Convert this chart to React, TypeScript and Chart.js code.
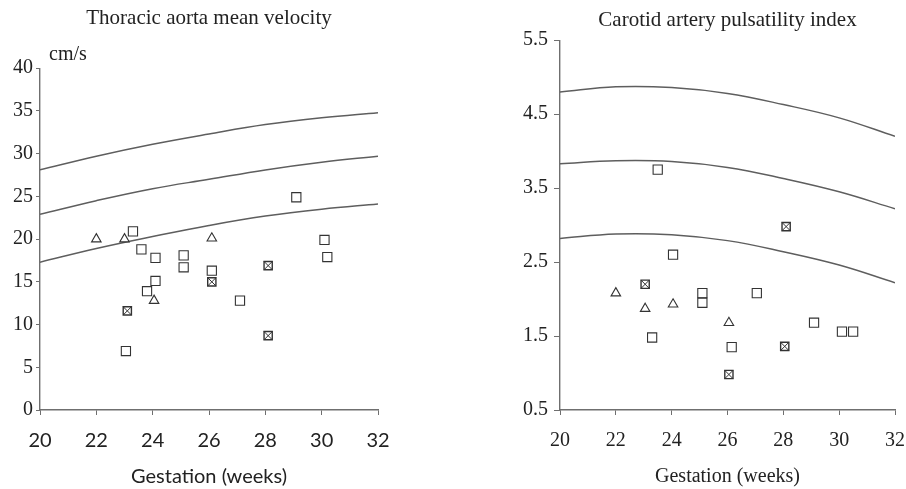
import React, { useEffect, useRef } from "react";
import { Chart, registerables } from "chart.js";

Chart.register(...registerables);

// ---------- data ----------
const weekTicks = [20, 22, 24, 26, 28, 30, 32];

// Thoracic aorta mean velocity (cm/s) reference curves
const curveWeeks = [20, 22, 24, 26, 28, 30, 32];
const aortaUpper = [28.1, 29.7, 31.1, 32.3, 33.4, 34.2, 34.8];
const aortaMiddle = [22.9, 24.5, 25.9, 27.0, 28.1, 29.0, 29.7];
const aortaLower = [17.3, 18.9, 20.3, 21.6, 22.7, 23.5, 24.1];
const aortaTicks = [0, 5, 10, 15, 20, 25, 30, 35, 40];

const aortaSquares: [number, number][] = [
  [23.3, 20.9], [23.6, 18.8], [24.1, 17.8], [25.1, 18.1], [25.1, 16.7],
  [26.1, 16.3], [24.1, 15.1], [23.8, 13.9], [23.05, 6.9], [27.1, 12.8],
  [29.1, 24.9], [30.1, 19.9], [30.2, 17.9],
];
const aortaTriangles: [number, number][] = [
  [22.0, 20.0], [23.0, 20.0], [26.1, 20.1], [24.05, 12.8],
];
const aortaCrossed: [number, number][] = [
  [26.1, 15.0], [23.1, 11.6], [28.1, 16.9], [28.1, 8.7],
];

// Carotid artery pulsatility index reference curves
const carotidUpper = [4.8, 4.87, 4.86, 4.78, 4.63, 4.45, 4.2];
const carotidMiddle = [3.83, 3.87, 3.86, 3.78, 3.63, 3.45, 3.22];
const carotidLower = [2.82, 2.88, 2.87, 2.79, 2.64, 2.46, 2.22];
const carotidTicks = [0.5, 1.5, 2.5, 3.5, 4.5, 5.5];

const carotidSquares: [number, number][] = [
  [23.5, 3.75], [24.05, 2.6], [25.1, 2.08], [25.1, 1.95], [27.05, 2.08],
  [23.3, 1.48], [26.15, 1.35], [29.1, 1.68], [30.1, 1.56], [30.5, 1.56],
];
const carotidTriangles: [number, number][] = [
  [22.0, 2.08], [23.05, 1.87], [24.05, 1.93], [26.05, 1.68],
];
const carotidCrossed: [number, number][] = [
  [28.1, 2.98], [23.05, 2.2], [28.05, 1.36], [26.05, 0.98],
];

// ---------- styles ----------
const SERIF = "'Liberation Serif', 'Times New Roman', serif";
const SANS = "Lato, 'Open Sans', sans-serif";
const TEXT = "#222";
const AXIS = "#6f6f6f";
const CURVE = "#5e5e5e";
const MARK = "#333";

const toPts = (arr: [number, number][]) => arr.map(([x, y]) => ({ x, y }));
const curvePts = (ys: number[]) => curveWeeks.map((x, i) => ({ x, y: ys[i] }));

function curveDataset(ys: number[]) {
  return {
    data: curvePts(ys),
    showLine: true,
    borderColor: CURVE,
    borderWidth: 1.5,
    pointRadius: 0,
    tension: 0.4,
    fill: false,
    order: 10,
  };
}

function markerDatasets(sq: [number, number][], tri: [number, number][], cr: [number, number][]) {
  return [
    { data: toPts(sq), pointStyle: "rect", pointRadius: 6.5, borderColor: MARK, backgroundColor: "#fff", pointBorderWidth: 1.1, showLine: false, order: 3 },
    { data: toPts(tri), pointStyle: "triangle", pointRadius: 5.5, borderColor: MARK, backgroundColor: "#fff", pointBorderWidth: 1.1, showLine: false, order: 3 },
    { data: toPts(cr), pointStyle: "rect", pointRadius: 5.8, borderColor: MARK, backgroundColor: "#fff", pointBorderWidth: 1.4, showLine: false, order: 2 },
    { data: toPts(cr), pointStyle: "crossRot", pointRadius: 5.8, borderColor: MARK, backgroundColor: "#fff", pointBorderWidth: 1, showLine: false, order: 1 },
  ];
}

interface Spec {
  title: string;
  titlePadTop: number;
  titlePadBottom: number;
  curves: number[][];
  sq: [number, number][];
  tri: [number, number][];
  cr: [number, number][];
  yMin: number;
  yMax: number;
  yTicks: number[];
  yWidth: number;
  yTickLen: number;
  yTickPad: number;
  padRight: number;
  xFont: string;
  unit?: string;
}

function buildConfig(s: Spec): any {
  const unitPlugin = {
    id: "unitLabel",
    afterDraw(chart: any) {
      if (!s.unit) return;
      const ctx = chart.ctx;
      ctx.save();
      ctx.font = `20px ${SERIF}`;
      ctx.fillStyle = TEXT;
      ctx.textAlign = "left";
      ctx.textBaseline = "middle";
      ctx.fillText(s.unit, chart.chartArea.left + 9, chart.chartArea.top - 13);
      ctx.restore();
    },
  };
  return {
    type: "scatter",
    data: {
      datasets: [...markerDatasets(s.sq, s.tri, s.cr), ...s.curves.map(curveDataset)],
    },
    options: {
      responsive: false,
      animation: false,
      devicePixelRatio: 1,
      layout: { padding: { left: 0, right: s.padRight, top: 0, bottom: 0 } },
      plugins: {
        legend: { display: false },
        tooltip: { enabled: false },
        title: {
          display: true,
          text: s.title,
          fullSize: false,
          color: TEXT,
          font: { family: SERIF, size: 21, weight: "normal" },
          padding: { top: s.titlePadTop, bottom: s.titlePadBottom },
        },
      },
      scales: {
        x: {
          type: "linear",
          min: 20,
          max: 32,
          afterBuildTicks: (sc: any) => {
            sc.ticks = weekTicks.map((v) => ({ value: v }));
          },
          afterFit: (sc: any) => {
            sc.height = 79;
            sc.paddingRight = 0;
            sc.paddingLeft = 0;
          },
          grid: { drawOnChartArea: false, drawTicks: true, tickLength: 5, color: AXIS },
          border: { display: true, color: AXIS, width: 1.4 },
          ticks: { color: TEXT, font: { family: s.xFont, size: 20 }, padding: 14, maxRotation: 0, autoSkip: false },
          title: {
            display: true,
            text: "Gestation (weeks)",
            color: TEXT,
            font: { family: s.xFont, size: 20 },
            padding: { top: 0, bottom: 0 },
          },
        },
        y: {
          type: "linear",
          min: s.yMin,
          max: s.yMax,
          afterBuildTicks: (sc: any) => {
            sc.ticks = s.yTicks.map((v) => ({ value: v }));
          },
          afterFit: (sc: any) => {
            sc.width = s.yWidth;
          },
          grid: { drawOnChartArea: false, drawTicks: true, tickLength: s.yTickLen, color: AXIS },
          border: { display: true, color: AXIS, width: 1.4 },
          ticks: { color: TEXT, font: { family: SERIF, size: 20 }, padding: s.yTickPad, autoSkip: false },
        },
      },
    },
    plugins: [unitPlugin],
  };
}

function Panel({ spec, left }: { spec: Spec; left: number }) {
  const ref = useRef<HTMLCanvasElement | null>(null);
  useEffect(() => {
    if (!ref.current) return;
    const chart = new Chart(ref.current, buildConfig(spec));
    return () => chart.destroy();
  }, []);
  return (
    <div style={{ position: "absolute", left, top: 0, width: 453, height: 489 }}>
      <canvas ref={ref} width={453} height={489} style={{ display: "block", width: 453, height: 489 }} />
    </div>
  );
}

const leftSpec: Spec = {
  title: "Thoracic aorta mean velocity",
  titlePadTop: 6,
  titlePadBottom: 37,
  curves: [aortaUpper, aortaMiddle, aortaLower],
  sq: aortaSquares,
  tri: aortaTriangles,
  cr: aortaCrossed,
  yMin: 0,
  yMax: 40,
  yTicks: aortaTicks,
  yWidth: 40,
  yTickLen: 4,
  yTickPad: 3,
  padRight: 75,
  xFont: SANS,
  unit: "cm/s",
};

const rightSpec: Spec = {
  title: "Carotid artery pulsatility index",
  titlePadTop: 8,
  titlePadBottom: 7,
  curves: [carotidUpper, carotidMiddle, carotidLower],
  sq: carotidSquares,
  tri: carotidTriangles,
  cr: carotidCrossed,
  yMin: 0.5,
  yMax: 5.5,
  yTicks: carotidTicks,
  yWidth: 107,
  yTickLen: 6,
  yTickPad: 6,
  padRight: 11,
  xFont: SERIF,
};

export default function App() {
  return (
    <div style={{ position: "absolute", left: 0, top: 0, width: 906, height: 489, background: "#fff", overflow: "hidden" }}>
      <Panel spec={leftSpec} left={0} />
      <Panel spec={rightSpec} left={453} />
    </div>
  );
}
